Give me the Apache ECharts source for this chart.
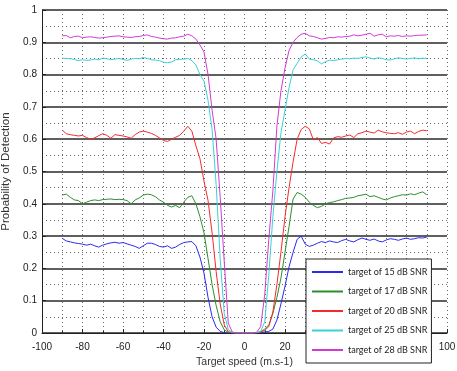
<!DOCTYPE html>
<html>
<head>
<meta charset="utf-8">
<script src="https://cdn.jsdelivr.net/npm/echarts@6/dist/echarts.min.js"></script>
<style>
  html, body { margin: 0; padding: 0; background: #fff; }
  #chart { width: 457px; height: 371px; }
</style>
</head>
<body>
<div id="chart"></div>
<script>
// target speed (m.s-1), one sample every 2 m/s
const speeds = [];
for (let s = -90; s <= 90; s += 2) speeds.push(s);

const seriesNames = ['target of 15 dB SNR', 'target of 17 dB SNR', 'target of 20 dB SNR', 'target of 25 dB SNR', 'target of 28 dB SNR'];
const seriesColors = ['#2a2af0', '#2a8f2a', '#f52a2a', '#3ad2d2', '#d23ad2'];

// probability of detection
const snr15 = [
  0.293, 0.285, 0.282, 0.279, 0.277, 0.275, 0.272, 0.275, 0.270, 0.266,
  0.272, 0.276, 0.279, 0.281, 0.278, 0.280, 0.276, 0.272, 0.268, 0.262,
  0.270, 0.278, 0.278, 0.274, 0.268, 0.266, 0.270, 0.262, 0.266, 0.274,
  0.280, 0.282, 0.283, 0.270, 0.235, 0.185, 0.110, 0.050, 0.018, 0.005,
  0.001, 0, 0, 0, 0, 0, 0, 0, 0, 0.001,
  0.003, 0.005, 0.012, 0.040, 0.090, 0.145, 0.205, 0.250, 0.290, 0.300,
  0.275, 0.268, 0.272, 0.278, 0.283, 0.280, 0.285, 0.282, 0.280, 0.286,
  0.290, 0.285, 0.282, 0.289, 0.294, 0.290, 0.287, 0.291, 0.285, 0.282,
  0.288, 0.292, 0.290, 0.287, 0.291, 0.294, 0.290, 0.292, 0.295, 0.294,
  0.297
];
const snr17 = [
  0.427, 0.430, 0.420, 0.412, 0.410, 0.400, 0.405, 0.410, 0.412, 0.410,
  0.413, 0.414, 0.415, 0.413, 0.414, 0.413, 0.410, 0.400, 0.412, 0.418,
  0.427, 0.430, 0.428, 0.422, 0.412, 0.405, 0.395, 0.390, 0.395, 0.388,
  0.405, 0.420, 0.425, 0.400, 0.360, 0.310, 0.230, 0.150, 0.085, 0.035,
  0.010, 0.002, 0, 0, 0, 0, 0, 0, 0.001, 0.004,
  0.012, 0.025, 0.060, 0.110, 0.170, 0.250, 0.330, 0.415, 0.435, 0.430,
  0.420, 0.405, 0.395, 0.388, 0.392, 0.400, 0.404, 0.406, 0.410, 0.413,
  0.417, 0.418, 0.420, 0.425, 0.427, 0.430, 0.422, 0.425, 0.420, 0.415,
  0.412, 0.418, 0.422, 0.425, 0.428, 0.427, 0.431, 0.428, 0.433, 0.437,
  0.428
];
const snr20 = [
  0.628, 0.617, 0.614, 0.612, 0.610, 0.612, 0.605, 0.600, 0.604, 0.611,
  0.617, 0.612, 0.603, 0.614, 0.612, 0.610, 0.607, 0.603, 0.614, 0.622,
  0.625, 0.622, 0.618, 0.612, 0.604, 0.596, 0.593, 0.600, 0.606, 0.612,
  0.625, 0.640, 0.625, 0.580, 0.540, 0.470, 0.410, 0.310, 0.190, 0.090,
  0.025, 0.004, 0.001, 0, 0, 0, 0, 0, 0.001, 0.003,
  0.008, 0.020, 0.065, 0.150, 0.250, 0.360, 0.450, 0.530, 0.600, 0.630,
  0.640, 0.632, 0.598, 0.605, 0.587, 0.590, 0.585, 0.604, 0.608, 0.606,
  0.610, 0.613, 0.605, 0.617, 0.620, 0.625, 0.622, 0.619, 0.628, 0.623,
  0.620, 0.618, 0.617, 0.620, 0.615, 0.622, 0.625, 0.617, 0.624, 0.628,
  0.626
];
const snr25 = [
  0.851, 0.850, 0.849, 0.847, 0.843, 0.846, 0.844, 0.845, 0.848, 0.846,
  0.851, 0.849, 0.846, 0.848, 0.850, 0.847, 0.844, 0.848, 0.850, 0.849,
  0.853, 0.850, 0.846, 0.845, 0.843, 0.838, 0.837, 0.839, 0.846, 0.847,
  0.848, 0.850, 0.843, 0.830, 0.800, 0.780, 0.720, 0.630, 0.460, 0.230,
  0.060, 0.010, 0.002, 0, 0, 0, 0, 0, 0.001, 0.005,
  0.035, 0.180, 0.360, 0.500, 0.620, 0.690, 0.760, 0.815, 0.835, 0.855,
  0.864, 0.848, 0.846, 0.843, 0.833, 0.840, 0.845, 0.843, 0.846, 0.848,
  0.850, 0.849, 0.851, 0.850, 0.853, 0.855, 0.851, 0.848, 0.852, 0.850,
  0.846, 0.845, 0.849, 0.852, 0.850, 0.848, 0.850, 0.852, 0.849, 0.851,
  0.850
];
const snr28 = [
  0.920, 0.921, 0.914, 0.918, 0.919, 0.914, 0.916, 0.917, 0.915, 0.913,
  0.914, 0.916, 0.918, 0.919, 0.920, 0.917, 0.916, 0.915, 0.917, 0.918,
  0.921, 0.923, 0.918, 0.916, 0.913, 0.911, 0.910, 0.913, 0.914, 0.917,
  0.919, 0.925, 0.920, 0.910, 0.892, 0.870, 0.800, 0.690, 0.600, 0.420,
  0.220, 0.030, 0.003, 0, 0, 0, 0, 0, 0.002, 0.020,
  0.120, 0.290, 0.440, 0.640, 0.750, 0.820, 0.875, 0.900, 0.915, 0.925,
  0.928, 0.920, 0.918, 0.914, 0.910, 0.912, 0.915, 0.914, 0.917, 0.916,
  0.918, 0.919, 0.923, 0.920, 0.922, 0.925, 0.928, 0.919, 0.923, 0.925,
  0.917, 0.920, 0.919, 0.921, 0.918, 0.920, 0.919, 0.921, 0.922, 0.922,
  0.923
];
const allSeries = [snr15, snr17, snr20, snr25, snr28];

const chart = echarts.init(document.getElementById('chart'), null, { renderer: 'canvas' });

const dotted = { color: '#666', type: [1, 3], width: 1 };

const option = {
  animation: false,
  backgroundColor: '#fff',
  grid: { left: 42, right: 10, top: 10, bottom: 38, outerBoundsMode: 'none' },
  xAxis: {
    type: 'value',
    min: -100,
    max: 100,
    interval: 20,
    name: 'Target speed (m.s-1)',
    nameLocation: 'middle',
    nameGap: 24,
    nameTextStyle: { color: '#333', fontFamily: 'Liberation Sans', fontSize: 10.5 },
    axisLine: { onZero: false, lineStyle: { color: '#222', width: 1 } },
    axisTick: { inside: true, length: 4, lineStyle: { color: '#222' } },
    minorTick: { show: true, splitNumber: 2, length: 2, lineStyle: { color: '#222' } },
    axisLabel: { color: '#222', fontFamily: 'Liberation Sans', fontSize: 10, margin: 9 },
    splitLine: { show: true, lineStyle: dotted },
    minorSplitLine: { show: true, lineStyle: dotted }
  },
  yAxis: {
    type: 'value',
    min: 0,
    max: 1,
    interval: 0.1,
    name: 'Probability of Detection',
    nameLocation: 'middle',
    nameGap: 28,
    nameTextStyle: { color: '#333', fontFamily: 'Liberation Sans', fontSize: 11.5 },
    axisLine: { onZero: false, lineStyle: { color: '#222', width: 1 } },
    axisTick: { inside: true, length: 4, lineStyle: { color: '#222' } },
    axisLabel: { color: '#222', fontFamily: 'Liberation Sans', fontSize: 10, margin: 5 },
    splitLine: { show: true, lineStyle: { color: '#2a2a2a', width: 1.5 } },
    minorTick: { show: true, splitNumber: 2, length: 0 },
    minorSplitLine: { show: true, lineStyle: dotted }
  },
  legend: {
    orient: 'vertical',
    left: 306,
    top: 259,
    width: 122,
    padding: [7, 4, 7, 6],
    itemGap: 7.5,
    itemWidth: 31,
    itemHeight: 2,
    icon: 'rect',
    backgroundColor: '#fff',
    borderColor: '#222',
    borderWidth: 1,
    borderRadius: 0,
    textStyle: { color: '#222', fontFamily: 'Lato', fontSize: 9, lineHeight: 12 },
    data: seriesNames
  },
  series: seriesNames.map((name, k) => ({
    name,
    type: 'line',
    showSymbol: false,
    symbol: 'none',
    color: seriesColors[k],
    lineStyle: { width: 1, color: seriesColors[k] },
    data: speeds.map((s, i) => [s, allSeries[k][i]])
  }))
};

chart.setOption(option);
</script>
</body>
</html>
